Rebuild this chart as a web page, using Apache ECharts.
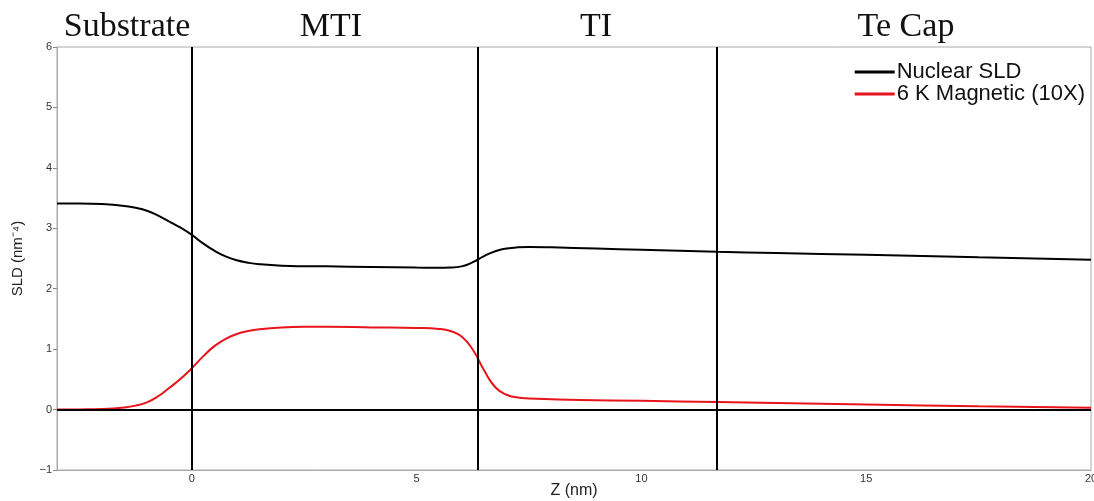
<!DOCTYPE html>
<html>
<head>
<meta charset="utf-8">
<script src="https://cdn.jsdelivr.net/npm/echarts@6/dist/echarts.min.js"></script>
<style>html,body{margin:0;padding:0;background:#fff;}#c{width:1094px;height:501px;}</style>
</head>
<body>
<div id="c"></div>
<script>
// ---- data ----
const seriesNames = ['Nuclear SLD', '6 K Magnetic (10X)'];
const zNuclear = [-3, -2.5, -2, -1.5, -1.25, -1, -0.75, -0.5, -0.25, 0, 0.25, 0.5, 0.75, 1, 1.25, 1.5, 2, 2.5, 3, 4, 5, 5.5, 5.75, 6.0, 6.25, 6.5, 6.75, 7.0, 7.25, 7.5, 8, 9, 10, 11.68, 13, 15, 17.5, 20];
const nuclearSLD = [3.41, 3.41, 3.40, 3.37, 3.34, 3.29, 3.21, 3.11, 3.01, 2.89, 2.75, 2.63, 2.535, 2.47, 2.43, 2.405, 2.38, 2.372, 2.37, 2.36, 2.35, 2.347, 2.35, 2.37, 2.44, 2.54, 2.62, 2.665, 2.685, 2.69, 2.685, 2.665, 2.645, 2.61, 2.59, 2.56, 2.52, 2.48];
const zMagnetic = [-3, -2.5, -2, -1.5, -1.25, -1, -0.75, -0.5, -0.25, 0, 0.25, 0.5, 0.75, 1, 1.25, 1.5, 2, 2.5, 3, 4, 5, 5.5, 5.75, 6.0, 6.25, 6.5, 6.75, 7.0, 7.25, 7.5, 8, 8.64, 10, 11.68, 13, 15, 17.5, 20];
const magneticSLD = [0, 0.003, 0.01, 0.035, 0.065, 0.12, 0.22, 0.36, 0.51, 0.685, 0.88, 1.05, 1.17, 1.25, 1.30, 1.33, 1.36, 1.37, 1.37, 1.36, 1.35, 1.335, 1.30, 1.21, 0.99, 0.65, 0.37, 0.245, 0.20, 0.185, 0.172, 0.16, 0.145, 0.125, 0.11, 0.085, 0.055, 0.03];
const interfaces = [0, 6.35, 11.68];
const regionLabels = ['Substrate', 'MTI', 'TI', 'Te Cap'];
const regionLabelX = [127, 331, 596, 906];
const xTicks = [0, 5, 10, 15, 20];

const zip = (a, b) => a.map((v, i) => [v, b[i]]);
const lineIcon = 'path://M0,0 L40,0 L40,3 L0,3 Z';

const chart = echarts.init(document.getElementById('c'), null, {renderer: 'canvas'});
const option = {
  animation: false,
  backgroundColor: '#fff',
  grid: {left: 57, right: 3, top: 47, bottom: 31, show: true, borderColor: '#aaa', borderWidth: 1,
         containLabel: false, outerBoundsMode: 'none'},
  legend: {
    data: seriesNames.map(n => ({name: n, icon: lineIcon})),
    orient: 'vertical',
    right: 4, top: 56,
    itemWidth: 40, itemHeight: 3, itemGap: 0,
    textStyle: {fontFamily: 'Liberation Sans', fontSize: 22, color: '#111', padding: [0,0,0,-3], lineHeight: 21},
    backgroundColor: 'transparent'
  },
  xAxis: {
    type: 'value', min: -3, max: 20, interval: 1,
    name: 'Z (nm)', nameLocation: 'middle', nameGap: 13, nameMoveOverlap: false,
    nameTextStyle: {fontFamily: 'Liberation Sans', fontSize: 16, color: '#222'},
    axisLine: {show: true, onZero: false, lineStyle: {color: '#aaa'}},
    axisTick: {show: false},
    splitLine: {show: false},
    axisLabel: {
      fontFamily: 'Liberation Sans', fontSize: 11, color: '#333', margin: 3,
      formatter: v => xTicks.indexOf(v) >= 0 ? String(v) : ''
    }
  },
  yAxis: {
    type: 'value', min: -1, max: 6, interval: 1,
    name: 'SLD (nm\u207B\u2074)', nameLocation: 'middle', nameGap: 32, nameMoveOverlap: false,
    nameTextStyle: {fontFamily: 'Liberation Sans', fontSize: 15, color: '#222'},
    axisLine: {show: true, onZero: false, lineStyle: {color: '#aaa'}},
    axisTick: {show: true, length: 4, lineStyle: {color: '#888'}},
    splitLine: {show: false},
    axisLabel: {
      fontFamily: 'Liberation Sans', fontSize: 11, color: '#333', margin: 5,
      formatter: v => v < 0 ? '\u2212' + Math.abs(v) : String(v)
    }
  },
  series: [
    {
      name: seriesNames[0], type: 'line', data: zip(zNuclear, nuclearSLD),
      smooth: 0.5, symbol: 'none',
      lineStyle: {color: '#000', width: 2}, itemStyle: {color: '#000'},
      markLine: {
        silent: true, symbol: 'none', label: {show: false},
        lineStyle: {color: '#000', width: 2, type: 'solid'},
        data: interfaces.map(v => ({xAxis: v})).concat([{yAxis: 0}])
      },
      z: 3
    },
    {
      name: seriesNames[1], type: 'line', data: zip(zMagnetic, magneticSLD),
      smooth: 0.5, symbol: 'none',
      lineStyle: {color: '#e8141b', width: 2}, itemStyle: {color: '#e8141b'},
      z: 2
    }
  ],
  graphic: regionLabels.map((t, i) => ({
    type: 'text', x: regionLabelX[i], y: 10,
    style: {text: t, fontFamily: 'Liberation Serif', fontSize: 34, fill: '#111', align: 'center', verticalAlign: 'top'}
  }))
};
chart.setOption(option);
</script>
</body>
</html>
